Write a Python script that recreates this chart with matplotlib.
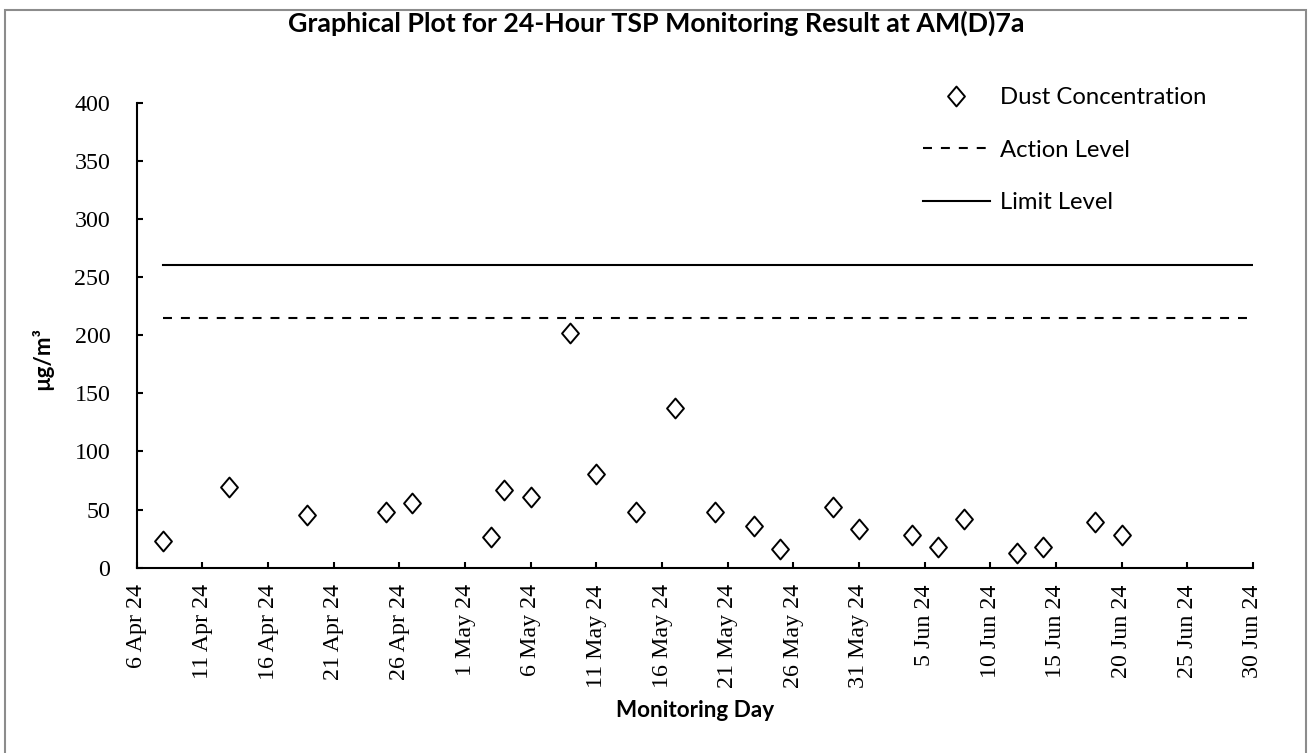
import numpy as np
import matplotlib
matplotlib.use("Agg")
import matplotlib.pyplot as plt
import matplotlib.dates as mdates
from matplotlib.path import Path
from matplotlib.patches import Rectangle
from matplotlib.ticker import FuncFormatter
import datetime as dt

# monitoring data (24-hour TSP, ug/m3)
dates = ['2024-04-08', '2024-04-13', '2024-04-19', '2024-04-25', '2024-04-27',
         '2024-05-03', '2024-05-04', '2024-05-06', '2024-05-09', '2024-05-11',
         '2024-05-14', '2024-05-17', '2024-05-20', '2024-05-23', '2024-05-25',
         '2024-05-29', '2024-05-31', '2024-06-04', '2024-06-06', '2024-06-08',
         '2024-06-12', '2024-06-14', '2024-06-18', '2024-06-20']
dust = [23, 69, 45, 48, 56, 26, 67, 61, 202, 81, 48, 137, 48, 36, 16,
        52, 33, 28, 18, 42, 13, 18, 39, 28]

action_level = 215
limit_level = 260
level_span = ['2024-04-08', '2024-06-30']

x_start = '2024-04-06'
x_end = '2024-06-30'
y_ticks = [0, 50, 100, 150, 200, 250, 300, 350, 400]

d = [dt.datetime.strptime(s, '%Y-%m-%d') for s in dates]
span = [dt.datetime.strptime(s, '%Y-%m-%d') for s in level_span]
x0 = dt.datetime.strptime(x_start, '%Y-%m-%d')
x1 = dt.datetime.strptime(x_end, '%Y-%m-%d')

sans = ['Lato', 'DejaVu Sans']
serif = ['Liberation Serif', 'DejaVu Serif']

fig = plt.figure(figsize=(13.12, 7.53), dpi=100)
ax = fig.add_axes([0.1042, 0.2461, 0.8508, 0.6175])

diamond = Path([(0, 1), (0.85, 0), (0, -1), (-0.85, 0), (0, 1)],
               [Path.MOVETO, Path.LINETO, Path.LINETO, Path.LINETO, Path.CLOSEPOLY])

ax.plot(d, dust, linestyle='none', marker=diamond, markersize=14.3,
        markerfacecolor='white', markeredgecolor='black', markeredgewidth=1.4,
        label='Dust Concentration', zorder=3)
ax.plot(span, [action_level, action_level], color='black', lw=1.5,
        dashes=(4.3, 4.3), label='Action Level')
ax.plot(span, [limit_level, limit_level], color='black', lw=1.5,
        label='Limit Level')

ax.set_xlim(x0, x1)
ax.set_ylim(0, 400)
ax.set_yticks(y_ticks)
ticks = [x0 + dt.timedelta(days=5 * i) for i in range(18)]
ax.set_xticks(ticks)
ax.xaxis.set_major_formatter(FuncFormatter(
    lambda v, p: (lambda t: f"{t.day} {t.strftime('%b %y')}")(mdates.num2date(v))))

for s in ['top', 'right']:
    ax.spines[s].set_visible(False)
for s in ['left', 'bottom']:
    ax.spines[s].set_linewidth(1.5)

ax.tick_params(axis='both', direction='in', length=4.5, width=1.5)
ax.tick_params(axis='y', pad=19)
ax.tick_params(axis='x', pad=12, rotation=90)
for lab in ax.get_xticklabels() + ax.get_yticklabels():
    lab.set_family(serif)
    lab.set_fontsize(17.3)

ax.set_xlabel('Monitoring Day', family=sans, fontweight='bold', fontsize=16.2, va='center')
ax.xaxis.set_label_coords(0.5, -0.308)
ax.set_ylabel('µg/m³', family=sans, fontweight='bold', fontsize=16, va='center')
ax.yaxis.set_label_coords(-0.085, 0.45)

fig.text(0.5, 0.969, 'Graphical Plot for 24-Hour TSP Monitoring Result at AM(D)7a',
         ha='center', va='center', family=sans, fontweight='bold', fontsize=19.3)

ax.legend(loc='upper left', bbox_to_anchor=(923 / 1312, 1 - 87 / 753),
          bbox_transform=fig.transFigure, frameon=False, borderpad=0,
          borderaxespad=0, handlelength=2.8, handletextpad=0.42,
          labelspacing=1.32, prop={'family': sans, 'size': 17.2})

fig.add_artist(Rectangle((4.7 / 1312, -0.02), (1305.7 - 4.7) / 1312, 1.02 - 9.7 / 753,
                         transform=fig.transFigure, fill=False,
                         edgecolor='#8c8c8c', lw=1.5))

fig.savefig('out.png', dpi=100)
